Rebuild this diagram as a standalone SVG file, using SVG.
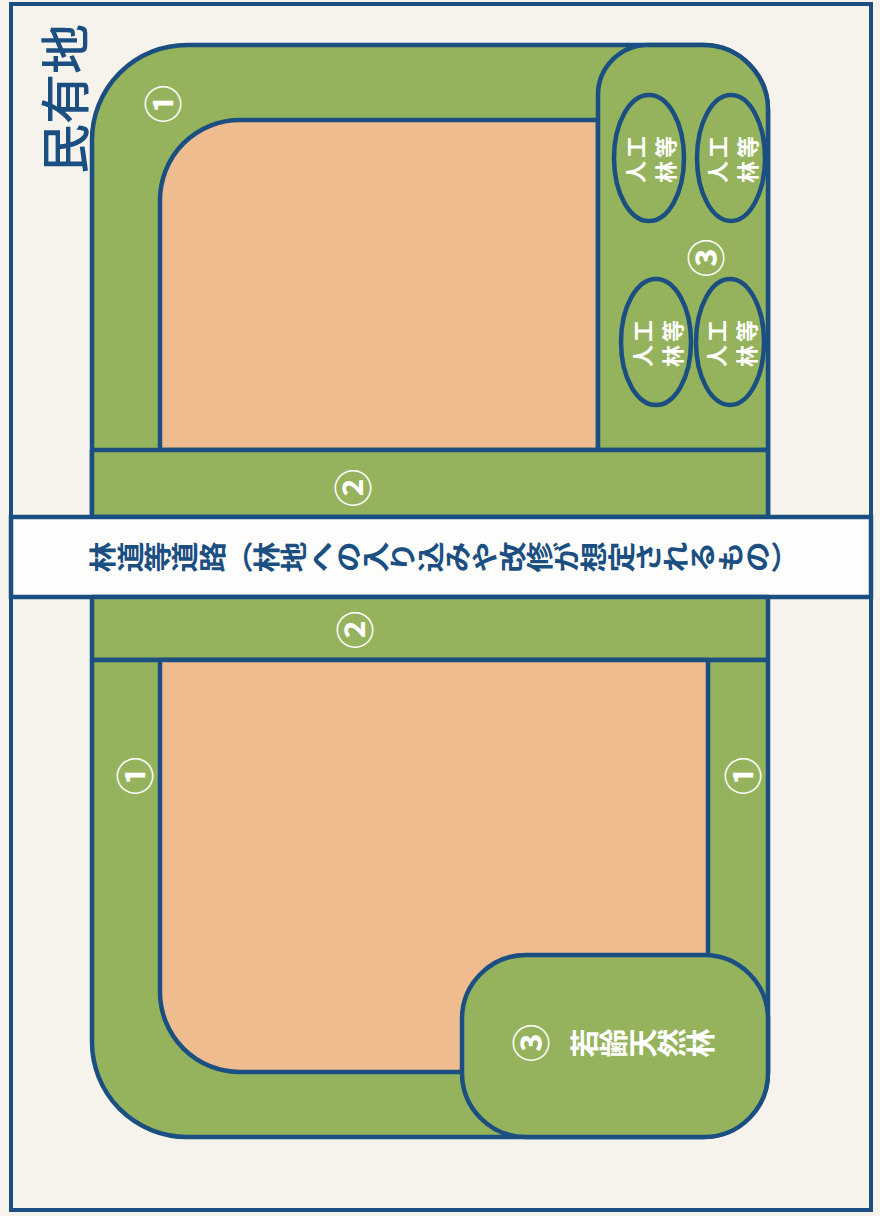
<svg xmlns="http://www.w3.org/2000/svg" width="880" height="1216" viewBox="0 0 880 1216">
<style>
.bg{fill:#f5f3eb}
.frame{fill:#f5f3eb;stroke:#1b4f82;stroke-width:4}
.g{fill:#95b35c;stroke:#1b4f82;stroke-width:4.5;stroke-linejoin:round}
.o{fill:#efbc90;stroke:#1b4f82;stroke-width:4.5;stroke-linejoin:round}
.road{fill:#fdfdfb;stroke:#1b4f82;stroke-width:4.5}
.ell{fill:none;stroke:#1b4f82;stroke-width:4.5}
.jp{font-family:"Noto Sans CJK JP","Noto Sans CJK SC",sans-serif}
.w{fill:#ffffff}
.b{fill:#1b4f82}
.num{font-size:38px;font-weight:bold;text-anchor:middle;dominant-baseline:central}
.small{font-size:22px;letter-spacing:3px;text-anchor:middle;dominant-baseline:central;font-weight:bold}
.vert{writing-mode:vertical-rl;text-anchor:middle;font-weight:bold}
</style>
<rect class="bg" x="0" y="0" width="880" height="1216"/>
<rect id="frame" class="frame" x="11" y="4" width="860" height="1206"/>
<text id="title" class="jp b" font-size="50" font-weight="500" text-anchor="middle" dominant-baseline="central" transform="translate(62,99) rotate(-90)">民有地</text>

<g id="upper-block">
  <path id="upper-zone1" class="g" d="M92,517 V140 A95,95 0 0 1 187,45 H703 A65,65 0 0 1 768,110 V517 Z"/>
  <path id="upper-interior" class="o" d="M160,450 V200 A80,80 0 0 1 240,120 H598 V450 Z"/>
  <path id="upper-zone3" class="g" d="M598,450 V95 A50,50 0 0 1 648,45 H703 A65,65 0 0 1 768,110 V450 Z"/>
  <rect id="upper-zone2" class="g" x="92" y="450" width="676" height="67"/>
  <text class="jp w num" transform="translate(160,104) rotate(-90)">①</text>
  <text class="jp w num" transform="translate(350,488) rotate(-90)">②</text>
  <text class="jp w num" transform="translate(703,258) rotate(-90)">③</text>
</g>

<g id="plantation-1">
  <ellipse class="ell" cx="649" cy="158" rx="35" ry="63"/>
  <text class="jp w small" transform="translate(634,158) rotate(-90)">人工</text>
  <text class="jp w small" transform="translate(664,158) rotate(-90)">林等</text>
</g>
<g id="plantation-2">
  <ellipse class="ell" cx="731" cy="158" rx="34" ry="63"/>
  <text class="jp w small" transform="translate(716,158) rotate(-90)">人工</text>
  <text class="jp w small" transform="translate(746,158) rotate(-90)">林等</text>
</g>
<g id="plantation-3">
  <ellipse class="ell" cx="656" cy="342" rx="35" ry="63"/>
  <text class="jp w small" transform="translate(641,342) rotate(-90)">人工</text>
  <text class="jp w small" transform="translate(671,342) rotate(-90)">林等</text>
</g>
<g id="plantation-4">
  <ellipse class="ell" cx="730" cy="342" rx="34" ry="63"/>
  <text class="jp w small" transform="translate(715,342) rotate(-90)">人工</text>
  <text class="jp w small" transform="translate(745,342) rotate(-90)">林等</text>
</g>

<g id="road">
  <rect class="road" x="11" y="517" width="860" height="80"/>
  <text class="jp b vert" font-size="31" transform="translate(444,557) scale(0.88,1) rotate(-90)">林道等道路（林地への入り込みや改修が想定されるもの）</text>
</g>

<g id="lower-block">
  <rect id="lower-zone2" class="g" x="92" y="597" width="676" height="63"/>
  <path id="lower-zone1" class="g" d="M92,660 H768 V1072 A65,65 0 0 1 703,1137 H187 A95,95 0 0 1 92,1042 Z"/>
  <path id="lower-interior" class="o" d="M160,660 H708 V1072 H240 A80,80 0 0 1 160,992 Z"/>
  <rect id="lower-zone3" class="g" x="462" y="955" width="306" height="182" rx="64" ry="64"/>
  <text class="jp w num" transform="translate(352,630) rotate(-90)">②</text>
  <text class="jp w num" transform="translate(132,776) rotate(-90)">①</text>
  <text class="jp w num" transform="translate(740,776) rotate(-90)">①</text>
  <text class="jp w num" transform="translate(528,1043) rotate(-90)">③</text>
  <text class="jp w vert" font-size="29" transform="translate(643,1043) rotate(-90)">若齢天然林</text>
</g>
</svg>
